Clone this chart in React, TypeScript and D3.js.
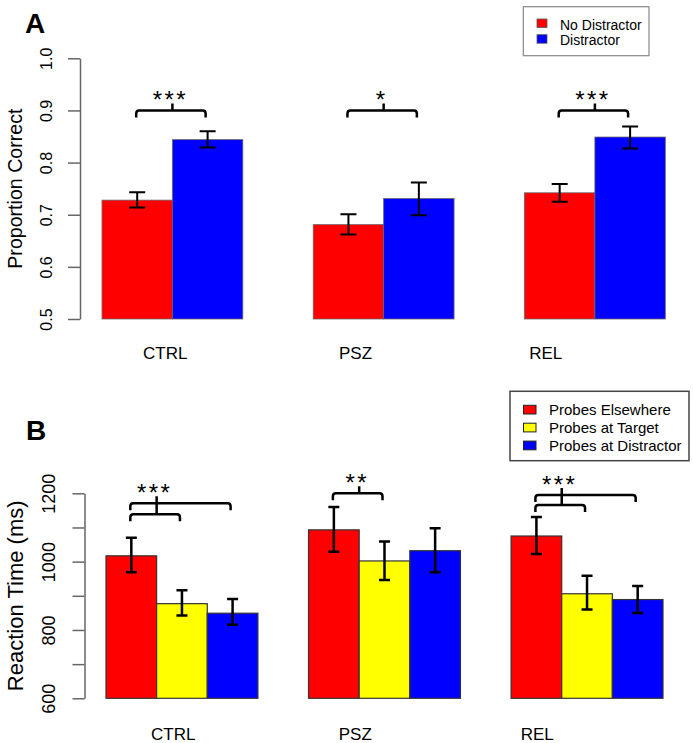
import React, { useEffect, useRef } from 'react'
import * as d3 from 'd3'

const groups = ['CTRL', 'PSZ', 'REL']

// panel A: proportion correct
const seriesA = ['No Distractor', 'Distractor']
const colorsA = ['#FF0000', '#0000FF']
const noDistMean = [0.728, 0.681, 0.742]
const noDistLo = [0.714, 0.662, 0.725]
const noDistHi = [0.743, 0.701, 0.759]
const distMean = [0.844, 0.731, 0.849]
const distLo = [0.829, 0.699, 0.827]
const distHi = [0.86, 0.762, 0.869]
const ticksA = [0.5, 0.6, 0.7, 0.8, 0.9, 1.0]
const sigA = ['***', '*', '***']
const bracketsA = [
  [{ to: 1, level: 0.9 }],
  [{ to: 1, level: 0.9 }],
  [{ to: 1, level: 0.9 }],
]

// panel B: reaction time
const seriesB = ['Probes Elsewhere', 'Probes at Target', 'Probes at Distractor']
const colorsB = ['#FF0000', '#FFFF00', '#0000FF']
const elseMean = [1017, 1093, 1075]
const elseLo = [969, 1029, 1022]
const elseHi = [1070, 1160, 1131]
const targetMean = [877, 1002, 906]
const targetLo = [842, 946, 860]
const targetHi = [916, 1059, 959]
const distrMean = [849, 1032, 889]
const distrLo = [815, 969, 850]
const distrHi = [891, 1098, 929]
const ticksB = [600, 700, 800, 900, 1000, 1100, 1200]
const labeledTicksB = [600, 800, 1000, 1200]
const sigB = ['***', '**', '***']
const bracketsB = [
  [{ to: 1, level: 1139 }, { to: 2, level: 1171 }],
  [{ to: 1, level: 1200 }],
  [{ to: 1, level: 1166 }, { to: 2, level: 1195 }],
]

const FONT = '"Liberation Sans", Arial, Helvetica, sans-serif'

type TBracket = { to: number; level: number }

type TPanelProps = {
  means: number[][]
  lows: number[][]
  highs: number[][]
  colors: string[]
  x: d3.ScaleLinear<number, number>
  y: d3.ScaleLinear<number, number>
  axisX: number
  ticks: number[]
  labeled: number[]
  tickFont: number
  tickShift: number
  title: string
  titleX: number
  titleFont: number
  labels: d3.ScalePoint<string>
  labelY: number
  brackets: TBracket[][]
  sig: string[]
  capW: number
  errW: number
  barStroke: string
  barStrokeW: number
  lineW: number
}

const Panel = (p: TPanelProps): JSX.Element => {
  const axisRef = useRef<SVGGElement>(null)
  const nS = p.means.length
  const unitW = p.x(2) - p.x(1)
  const barStart = (g: number, s: number) => 1 + g * (nS + 1) + s
  const center = (g: number, s: number) => p.x(barStart(g, s) + 0.5)

  useEffect(() => {
    if (!axisRef.current) return
    const g = d3.select(axisRef.current)
    g.selectAll('*').remove()
    g.call(
      d3
        .axisLeft(p.y)
        .tickValues(p.ticks)
        .tickSize(12)
        .tickSizeOuter(0)
        .tickFormat(d => (p.labeled.includes(+d) ? String(d3.format(p.labeled[0] < 10 ? '.1f' : 'd')(+d)) : '')),
    )
    g.attr('font-family', null).attr('font-size', null)
    g.select('.domain').attr('stroke', '#666').attr('stroke-width', 1.5)
    g.selectAll('.tick line').attr('stroke', '#666').attr('stroke-width', 1.5)
    g.selectAll('.tick text')
      .attr('x', 0)
      .attr('dy', 0)
      .attr('transform', `translate(${p.tickShift},0) rotate(-90)`)
      .attr('text-anchor', 'middle')
      .attr('fill', '#000')
      .style('font-family', FONT)
      .style('font-size', p.tickFont + 'px')
  }, [])

  const y0 = p.y.domain()[0]
  const midY = (p.y.range()[0] + p.y.range()[1]) / 2

  return (
    <g>
      <g ref={axisRef} transform={`translate(${p.axisX},0)`} />
      <text
        transform={`translate(${p.titleX},${midY}) rotate(-90)`}
        textAnchor='middle'
        fontFamily={FONT}
        fontSize={p.titleFont}
      >
        {p.title}
      </text>
      {groups.map((gName, g) =>
        p.means.map((m, s) => (
          <rect
            key={gName + s}
            x={p.x(barStart(g, s))}
            width={unitW}
            y={p.y(m[g])}
            height={p.y(y0) - p.y(m[g])}
            fill={p.colors[s]}
            stroke={p.barStroke}
            strokeWidth={p.barStrokeW}
          />
        )),
      )}
      {groups.map((gName, g) =>
        p.means.map((m, s) => {
          const cx = center(g, s)
          const lo = p.y(p.lows[s][g])
          const hi = p.y(p.highs[s][g])
          return (
            <path
              key={'e' + gName + s}
              d={`M${cx},${lo}V${hi}M${cx - p.capW / 2},${hi}H${cx + p.capW / 2}M${cx - p.capW / 2},${lo}H${cx + p.capW / 2}`}
              stroke='#000'
              strokeWidth={p.errW}
              fill='none'
            />
          )
        }),
      )}
      {groups.map((gName, g) => {
        const list = [...p.brackets[g]].sort((a, b) => a.level - b.level)
        const xm = (center(g, 0) + center(g, 1)) / 2
        const r = 3
        const h = 7
        const segs: string[] = []
        list.forEach((b, i) => {
          const yy = p.y(b.level)
          const x1 = center(g, 0) - 1
          const x2 = center(g, b.to) - 2
          segs.push(
            `M${x1},${yy + h}V${yy + r}Q${x1},${yy} ${x1 + r},${yy}H${x2 - r}Q${x2},${yy} ${x2},${yy + r}V${yy + h}`,
          )
          const top = i < list.length - 1 ? p.y(list[i + 1].level) : yy - h
          segs.push(`M${xm},${yy}V${top}`)
        })
        const topY = p.y(list[list.length - 1].level) - h
        return (
          <g key={'b' + gName}>
            <path d={segs.join('')} stroke='#000' strokeWidth={p.lineW} fill='none' />
            <text
              x={xm - 2}
              y={topY + 5}
              textAnchor='middle'
              fontFamily={FONT}
              fontSize={24}
              letterSpacing={2.4}
            >
              {p.sig[g]}
            </text>
          </g>
        )
      })}
      {groups.map(gName => (
        <text
          key={'l' + gName}
          x={p.labels(gName)}
          y={p.labelY}
          textAnchor='middle'
          fontFamily={FONT}
          fontSize={17}
        >
          {gName}
        </text>
      ))}
    </g>
  )
}

const App = (): JSX.Element => {
  const xA = d3.scaleLinear().domain([1, 9]).range([102, 665.3])
  const yA = d3.scaleLinear().domain([0.5, 1]).range([319, 58.3])
  const xB = d3.scaleLinear().domain([1, 12]).range([106, 663])
  const yB = d3.scaleLinear().domain([600, 1200]).range([698.3, 493.3])
  const labelsA = d3.scalePoint<string>().domain(groups).range([165.3, 545.8])
  const labelsB = d3.scalePoint<string>().domain(groups).range([173.3, 537.3])

  return (
    <div style={{ position: 'absolute', left: 0, top: 0 }}>
      <svg width={693} height={743} style={{ display: 'block', background: '#fff' }}>
        <text x={25} y={33} fontFamily={FONT} fontWeight='bold' fontSize={28}>
          A
        </text>
        <Panel
          means={[noDistMean, distMean]}
          lows={[noDistLo, distLo]}
          highs={[noDistHi, distHi]}
          colors={colorsA}
          x={xA}
          y={yA}
          axisX={80}
          ticks={ticksA}
          labeled={ticksA}
          tickFont={16}
          tickShift={-28}
          title='Proportion Correct'
          titleX={22.3}
          titleFont={19.6}
          labels={labelsA}
          labelY={359}
          brackets={bracketsA}
          sig={sigA}
          capW={16}
          errW={2}
          barStroke='#666'
          barStrokeW={0.8}
          lineW={2.5}
        />
        <g>
          <rect x={523.3} y={6.7} width={125.7} height={49} fill='#fff' stroke='#888' strokeWidth={1.2} />
          {seriesA.map((s, i) => (
            <g key={s}>
              <rect x={537} y={19 + i * 15.7} width={10} height={8.5} fill={colorsA[i]} stroke='#555' strokeWidth={0.8} />
              <text x={560} y={30 + i * 14.7} fontFamily={FONT} fontSize={14}>
                {s}
              </text>
            </g>
          ))}
        </g>

        <text x={26} y={440} fontFamily={FONT} fontWeight='bold' fontSize={28}>
          B
        </text>
        <Panel
          means={[elseMean, targetMean, distrMean]}
          lows={[elseLo, targetLo, distrLo]}
          highs={[elseHi, targetHi, distrHi]}
          colors={colorsB}
          x={xB}
          y={yB}
          axisX={84.5}
          ticks={ticksB}
          labeled={labeledTicksB}
          tickFont={18}
          tickShift={-30}
          title='Reaction Time (ms)'
          titleX={22.5}
          titleFont={22}
          labels={labelsB}
          labelY={740}
          brackets={bracketsB}
          sig={sigB}
          capW={11}
          errW={2.5}
          barStroke='#333'
          barStrokeW={1.2}
          lineW={2.5}
        />
        <g>
          <rect x={510} y={391.3} width={179} height={69.4} fill='#fff' stroke='#444' strokeWidth={1.5} />
          {seriesB.map((s, i) => (
            <g key={s}>
              <rect x={523.5} y={405.3 + i * 17.9} width={12.5} height={8.7} fill={colorsB[i]} stroke='#222' strokeWidth={1} />
              <text x={549} y={415.3 + i * 17.7} fontFamily={FONT} fontSize={15}>
                {s}
              </text>
            </g>
          ))}
        </g>
      </svg>
    </div>
  )
}

export default App
